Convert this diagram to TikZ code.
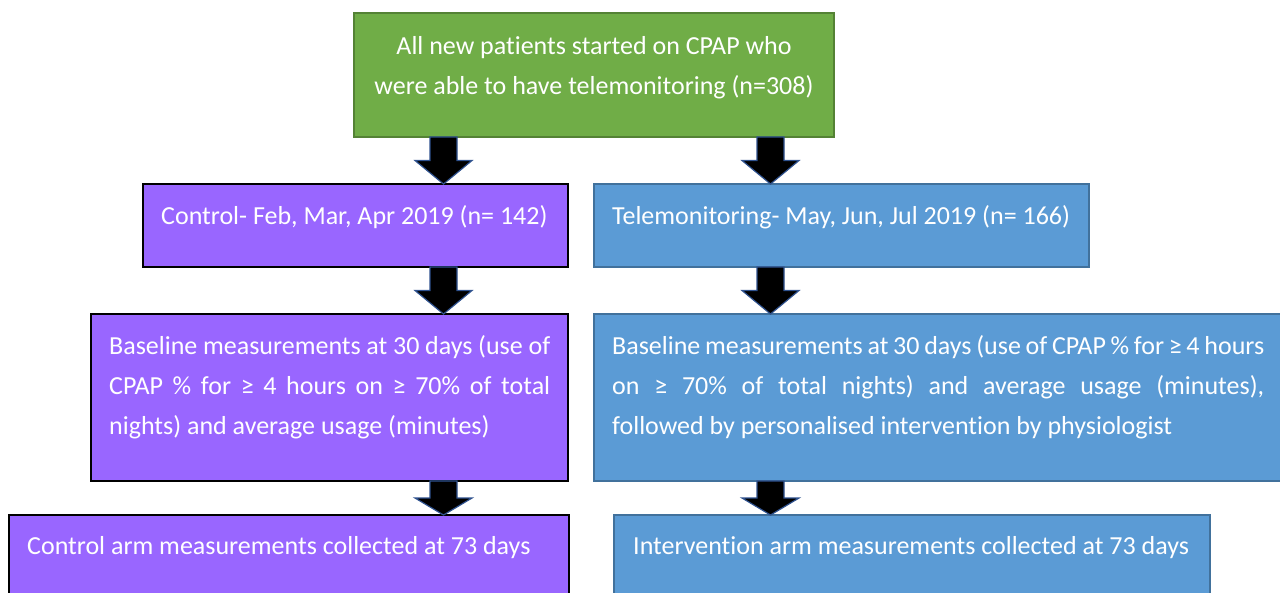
\documentclass[tikz,border=0pt]{standalone}
\usepackage{fontspec}
\setmainfont[Ligatures={NoCommon}]{Carlito}
\usetikzlibrary{calc}

\definecolor{grfill}{RGB}{112,173,71}
\definecolor{grline}{RGB}{84,130,53}
\definecolor{pufill}{RGB}{153,102,255}
\definecolor{blfill}{RGB}{91,155,213}
\definecolor{blline}{RGB}{65,113,156}
\definecolor{arline}{RGB}{47,82,143}

\begin{document}
\begin{tikzpicture}[x=1pt,y=-1pt,
  box/.style={line width=1.5pt, inner sep=0pt, outer sep=0pt, anchor=north west},
  greenbox/.style={box, draw=grline, fill=grfill},
  purplebox/.style={box, draw=black, fill=pufill},
  bluebox/.style={box, draw=blline, fill=blfill},
  txt/.style={text=white, inner sep=0pt, anchor=base west, font=\fontsize{26}{40}\selectfont},
  ctxt/.style={txt, anchor=base},
  blockarrow/.style={fill=black, draw=arline, line width=1.2pt, line join=miter,
    to path={
      let \p1=(\tikztostart), \p2=(\tikztotarget), \n1={0.5*(\y1-\y2)} in
      (\x1-13.5pt,\y1) -- (\x1-13.5pt,\y2+\n1) -- (\x1-28.5pt,\y2+\n1) -- (\x2,\y2)
      -- (\x1+28.5pt,\y2+\n1) -- (\x1+13.5pt,\y2+\n1) -- (\x1+13.5pt,\y1) -- cycle}}
]
\useasboundingbox (0,0) rectangle (1280,592);

% boxes
\node[greenbox, minimum width=480, minimum height=124] (all) at (354,13) {};
\node[purplebox, minimum width=425, minimum height=83] (ctrl) at (143,184) {};
\node[bluebox, minimum width=495, minimum height=83] (tele) at (594,184) {};
\node[purplebox, minimum width=477, minimum height=167] (cbase) at (91,314) {};
\node[bluebox, minimum width=720, minimum height=167] (tbase) at (594,314) {};
\node[purplebox, minimum width=560, minimum height=120] (cend) at (9,515) {};
\node[bluebox, minimum width=596, minimum height=120] (tend) at (614,515) {};

% texts
\node[ctxt] (all1) at (594,54) {All new patients started on CPAP who};
\node[ctxt] (all2) at (594,94) {were able to have telemonitoring (n=308)};
\node[txt] (ctrltxt) at (161,224) {Control- Feb, Mar, Apr 2019 (n= 142)};
\node[txt] (teletxt) at (612,224) {Telemonitoring- May, Jun, Jul 2019 (n= 166)};
\node[txt] (cb1) at (109,354) {\makebox[441pt][s]{Baseline measurements at 30 days (use of}};
\node[txt] (cb2) at (109,394) {\makebox[441pt][s]{CPAP \% for ≥ 4 hours on ≥ 70\% of total}};
\node[txt] (cb3) at (109,434) {nights) and average usage (minutes)};
\node[txt] (tb1) at (612,354) {\makebox[652pt][s]{Baseline measurements at 30 days (use of CPAP \% for ≥ 4 hours}};
\node[txt] (tb2) at (612,394) {\makebox[652pt][s]{on ≥ 70\% of total nights) and average usage (minutes),}};
\node[txt] (tb3) at (612,434) {followed by personalised intervention by physiologist};
\node[txt] (cendtxt) at (27,554) {Control arm measurements collected at 73 days};
\node[txt] (tendtxt) at (633,554) {Intervention arm measurements collected at 73 days};

% arrow columns
\coordinate (lx) at (443.5,0);
\coordinate (rx) at (770.5,0);

\draw[blockarrow] (all.south -| lx) to (ctrl.north -| lx);
\draw[blockarrow] (all.south -| rx) to (tele.north -| rx);
\draw[blockarrow] (ctrl.south -| lx) to (cbase.north -| lx);
\draw[blockarrow] (tele.south -| rx) to (tbase.north -| rx);
\draw[blockarrow] (cbase.south -| lx) to (cend.north -| lx);
\draw[blockarrow] (tbase.south -| rx) to (tend.north -| rx);
\end{tikzpicture}
\end{document}
